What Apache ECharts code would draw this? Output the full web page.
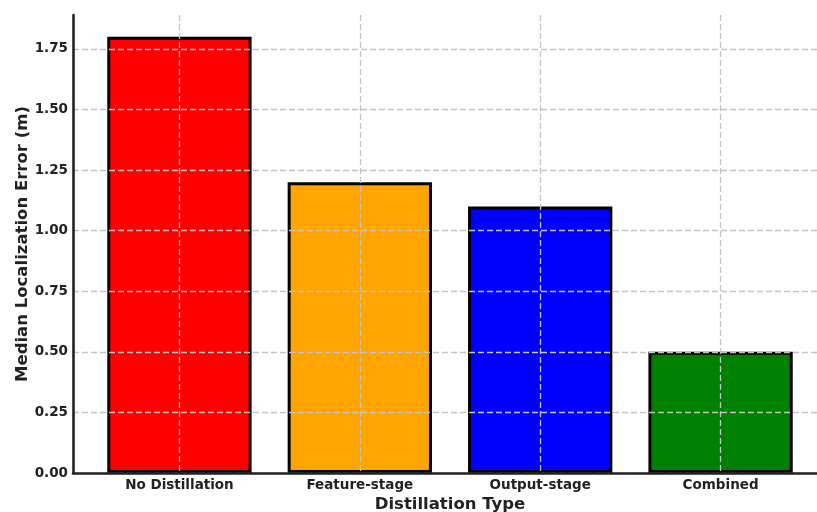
<!DOCTYPE html>
<html>
<head>
<meta charset="utf-8">
<script src="https://cdn.jsdelivr.net/npm/echarts@6/dist/echarts.min.js"></script>
<style>
  html, body { margin: 0; padding: 0; background: #fff; }
  #chart { width: 817px; height: 512px; }
</style>
</head>
<body>
<div id="chart"></div>
<script>
// Median localization error for each distillation strategy
const categories = ['No Distillation', 'Feature-stage', 'Output-stage', 'Combined'];
const errorValues = [1.80, 1.20, 1.10, 0.50];
const barColors = ['#ff0000', '#ffa500', '#0000ff', '#008000'];
const yTicks = [0, 0.25, 0.5, 0.75, 1.0, 1.25, 1.5, 1.75];
const xTicks = [0, 1, 2, 3];

const FONT = '"DejaVu Sans", sans-serif';
const TEXT = '#222222';
const gridLine = { show: true, lineStyle: { color: '#c4c4c4', width: 1.3, type: [6, 3] } };

const chart = echarts.init(document.getElementById('chart'), null, { renderer: 'canvas' });

// x positions in data units so the bar band keeps matplotlib-style margins
const xMin = -0.59, xMax = 3.59;
const gridLeft = 73, gridRight = -10;
const plotWidth = 817 - gridLeft - gridRight;
const barPx = 0.8 * plotWidth / (xMax - xMin);

chart.setOption({
  animation: false,
  backgroundColor: '#ffffff',
  grid: { left: gridLeft, right: gridRight, top: 15, bottom: 39, outerBoundsMode: 'none', containLabel: false },
  xAxis: {
    type: 'value',
    min: xMin,
    max: xMax,
    z: 5,
    name: 'Distillation Type',
    nameLocation: 'middle',
    nameGap: 23,
    nameMoveOverlap: false,
    nameTextStyle: { fontFamily: FONT, fontWeight: 'bold', fontSize: 16.5, color: TEXT },
    axisLine: { show: true, onZero: false, lineStyle: { color: TEXT, width: 2.6 } },
    axisTick: { show: false, customValues: xTicks },
    axisLabel: {
      customValues: xTicks,
      margin: 5,
      fontFamily: FONT, fontWeight: 'bold', fontSize: 13.5, color: TEXT,
      formatter: v => categories[Math.round(v)]
    },
    splitLine: gridLine
  },
  yAxis: {
    type: 'value',
    min: 0,
    max: 1.89,
    z: 5,
    name: 'Median Localization Error (m)',
    nameLocation: 'middle',
    nameGap: 42,
    nameMoveOverlap: false,
    nameTextStyle: { fontFamily: FONT, fontWeight: 'bold', fontSize: 16.5, color: TEXT },
    axisLine: { show: true, onZero: false, lineStyle: { color: TEXT, width: 2.6 } },
    axisTick: { show: false, customValues: yTicks },
    axisLabel: {
      customValues: yTicks,
      margin: 5,
      fontFamily: FONT, fontWeight: 'bold', fontSize: 13.5, color: TEXT,
      formatter: v => v.toFixed(2)
    },
    splitLine: gridLine
  },
  series: [{
    type: 'bar',
    barWidth: barPx,
    data: errorValues.map((v, i) => ({
      value: [i, v],
      itemStyle: { color: barColors[i], borderColor: '#000000', borderWidth: 3 }
    }))
  }]
});
</script>
</body>
</html>
